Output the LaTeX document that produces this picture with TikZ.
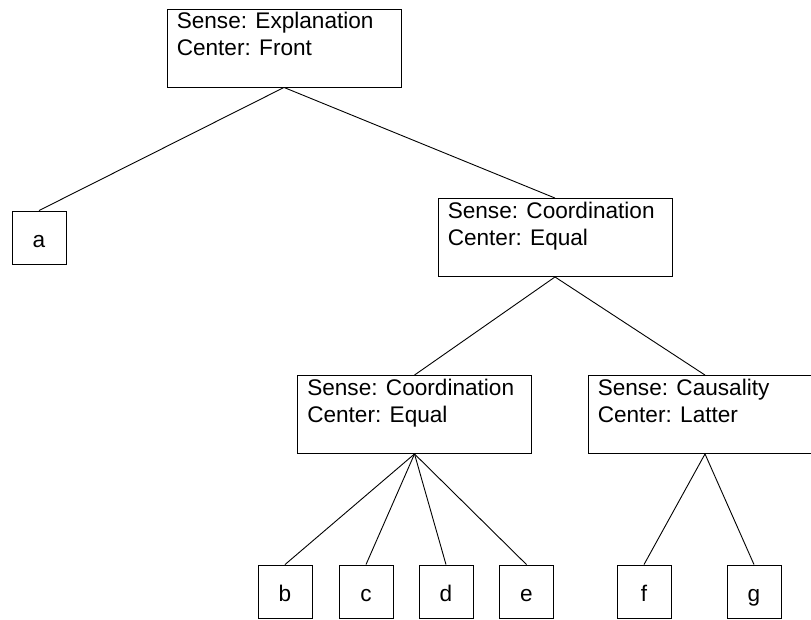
\documentclass[tikz,border=0pt]{standalone}
\usepackage{fontspec}
\setmainfont{Liberation Sans}
\begin{document}
\begin{tikzpicture}[x=1pt,y=-1pt,
  lbl/.style={font=\fontsize{22.6}{27}\selectfont},
  sensebox/.style={draw, line width=0.9pt, minimum width=234pt, minimum height=78pt, inner sep=0pt},
  leafbox/.style={draw, line width=0.9pt, minimum width=54pt, minimum height=53pt, inner sep=0pt,
    text height=21pt, text depth=2pt, lbl},
  boxtext/.style={anchor=base west, inner sep=0pt, align=left, lbl},
  link/.style={line width=0.9pt}]
\useasboundingbox (0,0) rectangle (811,619);

% relation boxes
\node[sensebox] (root) at (284,48) {};
\node[sensebox] (mid)  at (555,237.5) {};
\node[sensebox] (ll)   at (414.5,414.5) {};
\node[sensebox] (lr)   at (705,414.5) {};

% two-line labels, anchored on the baseline of the second line
\node[boxtext] (roottxt) at ([shift={(10pt,-47pt)}]root.north west) {Sense: Explanation\\Center: Front};
\node[boxtext] (midtxt)  at ([shift={(10pt,-47pt)}]mid.north west)  {Sense: Coordination\\Center: Equal};
\node[boxtext] (lltxt)   at ([shift={(10pt,-47pt)}]ll.north west)   {Sense: Coordination\\Center: Equal};
\node[boxtext] (lrtxt)   at ([shift={(10pt,-47pt)}]lr.north west)   {Sense: Causality\\Center: Latter};

% leaves
\node[leafbox] (a) at (39,237.5) {a};
\node[leafbox] (b) at (285,591.5) {b};
\node[leafbox] (c) at (366,591.5) {c};
\node[leafbox] (d) at (446,591.5) {d};
\node[leafbox] (e) at (526.5,591.5) {e};
\node[leafbox] (f) at (644,591.5) {f};
\node[leafbox] (g) at (754,591.5) {g};

% tree edges
\draw[link] (root.south) -- (a.north);
\draw[link] (root.south) -- (mid.north);
\draw[link] (mid.south) -- (ll.north);
\draw[link] (mid.south) -- (lr.north);
\foreach \k in {b,c,d,e} \draw[link] (ll.south) -- (\k.north);
\foreach \k in {f,g} \draw[link] (lr.south) -- (\k.north);
\end{tikzpicture}
\end{document}
